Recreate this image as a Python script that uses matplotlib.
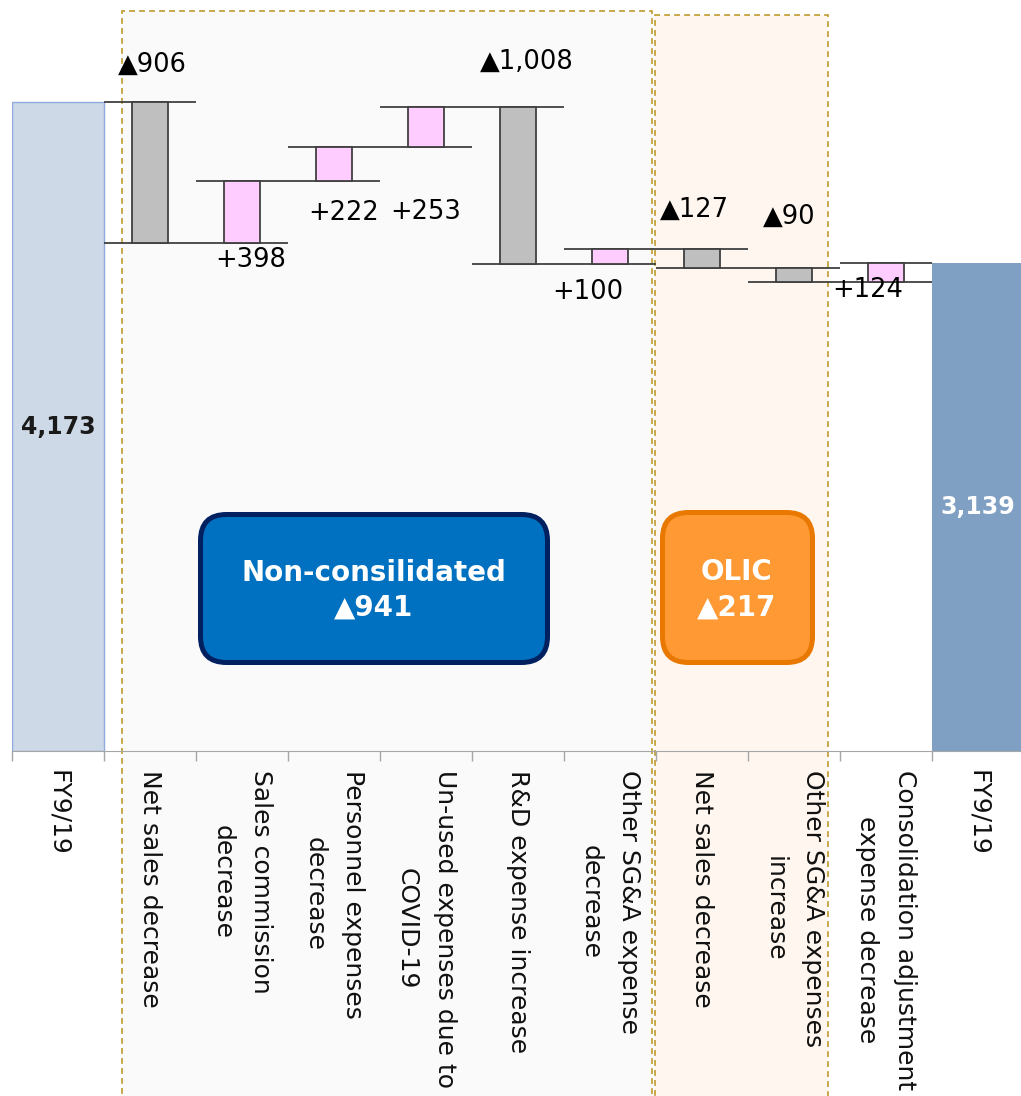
import numpy as np
import matplotlib
matplotlib.use("Agg")
import matplotlib.pyplot as plt
from matplotlib.patches import Rectangle, FancyBboxPatch
from matplotlib.transforms import IdentityTransform

# --- data -------------------------------------------------------------
categories = ["FY9/19",
              "Net sales decrease",
              "Sales commission\ndecrease",
              "Personnel expenses\ndecrease",
              "Un-used expenses due to\nCOVID-19",
              "R&D expense increase",
              "Other SG&A expense\ndecrease",
              "Net sales decrease",
              "Other SG&A expenses\nincrease",
              "Consolidation adjustment\nexpense decrease",
              "FY9/19"]
start_value = 4173
end_value = 3139
changes = [-906, 398, 222, 253, -1008, 100, -127, -90, 124]

# where each change label sits (x offset from slot centre, y in value units)
label_dx = [0.03, 0.09, 0.11, 0.0, 0.1, -0.24, -0.08, -0.05, -0.2]
label_y = [4413, 3159, 3461, 3467, 4432, 2953, 3480, 3435, 2966]

# --- layout -----------------------------------------------------------
W, H = 1021, 1096
PX_PER_UNIT = 0.15545      # vertical pixels per value unit
BASE_PX = 751              # baseline row in pixels from top
SLOT_PX = 92

plt.rcParams['font.family'] = ['DejaVu Sans']
fig = plt.figure(figsize=(W / 100, H / 100), dpi=100)
ax = fig.add_axes([12 / W, (H - BASE_PX) / H, (W - 12) / W, BASE_PX / H])
ax.patch.set_visible(False)
ax.set_xlim(-0.5, -0.5 + (W - 12) / SLOT_PX)
ax.set_ylim(0, BASE_PX / PX_PER_UNIT)

dash_col = '#bf9a2c'
# shaded group panels (non-consolidated / OLIC)
ax.add_patch(Rectangle((0.696, -2400), 6.457 - 0.696, 4762 + 2400,
                       facecolor='#fafafa', edgecolor=dash_col, lw=1.2,
                       linestyle=(0, (3.5, 2.5)), zorder=0.1, clip_on=False))
ax.add_patch(Rectangle((6.49, -2400), 8.37 - 6.49, 4735 + 2400,
                       facecolor='#fff7ef', edgecolor=dash_col, lw=1.2,
                       linestyle=(0, (3.5, 2.5)), zorder=0.1, clip_on=False))

# --- waterfall --------------------------------------------------------
n = len(changes)
levels = start_value + np.concatenate([[0], np.cumsum(changes)])
x_mid = np.arange(1, n + 1)
before = levels[:-1]
after = levels[1:]
bottoms = np.minimum(before, after)
heights = np.abs(changes)
colors = ['#bfbfbf' if c < 0 else '#ffccff' for c in changes]

ax.bar(0, start_value, width=1.0, color='#cdd9e7', edgecolor='#8faadc',
       lw=1, zorder=2)
ax.bar(n + 1, end_value, width=1.0, color='#7f9fc3', edgecolor='none',
       zorder=2)
ax.bar(x_mid, heights, bottom=bottoms, width=0.4, color=colors,
       edgecolor='#404040', lw=1.3, zorder=3)

# step lines joining consecutive bars
for k, lvl in enumerate(levels):
    x0 = max(k, 1) - 0.5
    x1 = min(k + 1, n) + 0.5
    ax.hlines(lvl, x0, x1, color='#404040', lw=1.3, zorder=2.5)

for i, c in enumerate(changes):
    txt = ('+{:,}' if c > 0 else '\u25b2{:,}').format(abs(c))
    ax.text(x_mid[i] + label_dx[i], label_y[i], txt, fontsize=18.5,
            ha='center', va='center', color='black', zorder=5)

ax.text(0, start_value / 2, '{:,}'.format(start_value), fontsize=17,
        fontweight='bold', color='#1a1a1a', ha='center', va='center', zorder=5)
ax.text(n + 1, end_value / 2, '{:,}'.format(end_value), fontsize=17,
        fontweight='bold', color='white', ha='center', va='center', zorder=5)

# --- axis ---------------------------------------------------------------
for side in ['top', 'right', 'left']:
    ax.spines[side].set_visible(False)
ax.spines['bottom'].set_color('#a6a6a6')
ax.spines['bottom'].set_zorder(4)
ax.set_yticks([])
ax.set_xticks(np.arange(-0.5, n + 1, 1.0))
ax.set_xticklabels([])
ax.tick_params(axis='x', direction='out', length=7.2, width=1,
               color='#a6a6a6')

label_y_pos = -19 / PX_PER_UNIT
for i, cat in enumerate(categories):
    ax.text(i, label_y_pos, cat, rotation=270, ha='center', va='top',
            multialignment='center', linespacing=1.75, fontsize=18,
            color='#111111', clip_on=False, zorder=5)

# --- summary boxes (pixel coordinates, origin top-left) ------------------
def add_box(x0, y0, w, h, face, edge):
    box = FancyBboxPatch((x0, H - y0 - h), w, h,
                         boxstyle='round,pad=0,rounding_size=26',
                         facecolor=face, edgecolor=edge, lw=3.6,
                         transform=IdentityTransform(), zorder=6)
    fig.add_artist(box)

add_box(200.5, 514.5, 347, 148, '#0070c0', '#002060')
add_box(662.5, 512.5, 150, 150, '#ff9933', '#e87800')

box_text = [("Non-consilidated", 374, 573), ("\u25b2941", 374, 608),
            ("OLIC", 737, 572), ("\u25b2217", 737, 608)]
for s, x, y in box_text:
    fig.text(x / W, 1 - y / H, s, fontsize=20, fontweight='bold',
             color='white', ha='center', va='center', zorder=7)

fig.savefig('out.png', dpi=100)
